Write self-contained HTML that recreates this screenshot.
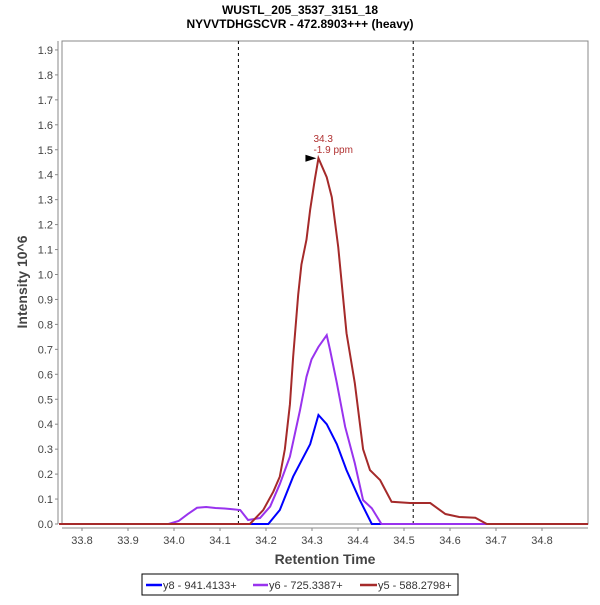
<!DOCTYPE html>
<html><head><meta charset="utf-8"><style>body{margin:0;background:#fff}svg{font-family:"Liberation Sans",sans-serif}</style></head>
<body>
<svg width="600" height="600">
<text x="300" y="14" text-anchor="middle" font-size="12" font-weight="bold">WUSTL_205_3537_3151_18</text>
<text x="300" y="28" text-anchor="middle" font-size="12" font-weight="bold">NYVVTDHGSCVR - 472.8903+++ (heavy)</text>
<rect x="62" y="41" width="526" height="483" fill="#fff" stroke="#888"/>
<g id="axes"></g>
<g id="series"></g>
<text x="27" y="282" text-anchor="middle" font-size="14" font-weight="bold" fill="#444" transform="rotate(-90 27 282)">Intensity 10^6</text>
<text x="325" y="564" text-anchor="middle" font-size="14" font-weight="bold" fill="#444">Retention Time</text>
<g>
<rect x="142" y="574" width="316" height="21" fill="#fff" stroke="#000"/>
<line x1="146" y1="585" x2="162" y2="585" stroke="#0000ff" stroke-width="2.5"/>
<text x="163" y="589" font-size="11" fill="#333">y8 - 941.4133+</text>
<line x1="253" y1="585" x2="268" y2="585" stroke="#9933ee" stroke-width="2.5"/>
<text x="269" y="589" font-size="11" fill="#333">y6 - 725.3387+</text>
<line x1="360" y1="585" x2="377" y2="585" stroke="#a52a2a" stroke-width="2.5"/>
<text x="378" y="589" font-size="11" fill="#333">y5 - 588.2798+</text>
</g>
</svg>
<script>
const xTicks=[33.8,33.9,34.0,34.1,34.2,34.3,34.4,34.5,34.6,34.7,34.8];
const yTicks=[0,0.1,0.2,0.3,0.4,0.5,0.6,0.7,0.8,0.9,1.0,1.1,1.2,1.3,1.4,1.5,1.6,1.7,1.8,1.9];
const dashedTimes=[34.14,34.52];
const y5T=[33.75,34.165,34.194,34.216,34.230,34.241,34.252,34.259,34.270,34.277,34.288,34.296,34.306,34.314,34.332,34.343,34.357,34.375,34.393,34.411,34.426,34.448,34.473,34.513,34.557,34.575,34.59,34.62,34.655,34.68,34.9];
const y5V=[0,0,0.056,0.13,0.19,0.30,0.48,0.67,0.92,1.04,1.14,1.26,1.38,1.466,1.39,1.31,1.11,0.765,0.565,0.30,0.216,0.176,0.089,0.084,0.084,0.06,0.04,0.028,0.025,0,0];
const y6T=[33.75,33.988,34.01,34.03,34.05,34.07,34.09,34.11,34.122,34.144,34.161,34.187,34.209,34.23,34.252,34.274,34.288,34.299,34.314,34.332,34.339,34.354,34.372,34.393,34.411,34.43,34.451,34.9];
const y6V=[0,0,0.012,0.04,0.065,0.068,0.064,0.062,0.06,0.056,0.016,0.024,0.07,0.16,0.27,0.457,0.59,0.66,0.71,0.757,0.70,0.565,0.39,0.244,0.096,0.063,0,0];
const y8T=[33.75,34.205,34.23,34.259,34.296,34.314,34.332,34.354,34.375,34.404,34.43,34.9];
const y8V=[0,0,0.056,0.19,0.32,0.437,0.40,0.32,0.216,0.096,0,0];
const peakTime=34.314, peakValue=1.466;
const X=t=>62+(t-33.7565)*460, Y=v=>524-v*249.5;
const NS="http://www.w3.org/2000/svg";
function mk(tag,attrs,parent,txt){const e=document.createElementNS(NS,tag);for(const k in attrs)e.setAttribute(k,attrs[k]);if(txt!==undefined)e.textContent=txt;parent.appendChild(e);return e;}
const ax=document.getElementById('axes');
const yl=mk('line',{x1:58,y1:41,x2:58,y2:524,stroke:'#888'},ax);


const xl=mk('line',{x1:62,y1:528,x2:588,y2:528,stroke:'#888'},ax);


yTicks.forEach(v=>{mk('line',{x1:55,x2:58,y1:Y(v),y2:Y(v),stroke:'#888'},ax);
const t=mk('text',{x:53,y:Y(v)+4,'text-anchor':'end','font-size':11,fill:'#444'},ax,v.toFixed(1));

});
xTicks.forEach(v=>{mk('line',{x1:X(v),x2:X(v),y1:528,y2:531,stroke:'#888'},ax);
const t=mk('text',{x:X(v),y:544,'text-anchor':'middle','font-size':11,fill:'#444'},ax,v.toFixed(1));

});
dashedTimes.forEach(v=>{const l=mk('line',{x1:X(v),x2:X(v),y1:41,y2:524,stroke:'#000','stroke-dasharray':'3,3'},ax);

});
const sg=document.getElementById('series');
[[y8T,y8V,'#0000ff','series-y8'],[y6T,y6V,'#9933ee','series-y6'],[y5T,y5V,'#a52a2a','series-y5']].forEach(([T,V,c,n])=>{
const p=mk('polyline',{points:T.map((t,i)=>X(t)+','+Y(V[i])).join(' '),fill:'none',stroke:c,'stroke-width':2},sg);

});
const px=X(peakTime),py=Y(peakValue);
const a=mk('polygon',{points:`${px-2},${py} ${px-13},${py-3.5} ${px-13},${py+3.5}`,fill:'#000'},sg);


const l1=mk('text',{x:px-5,y:py-16,'font-size':10,fill:'#b03030'},sg,'34.3');


const l2=mk('text',{x:px-5,y:py-5,'font-size':10,fill:'#b03030'},sg,'-1.9 ppm');


</script>
</body></html>
